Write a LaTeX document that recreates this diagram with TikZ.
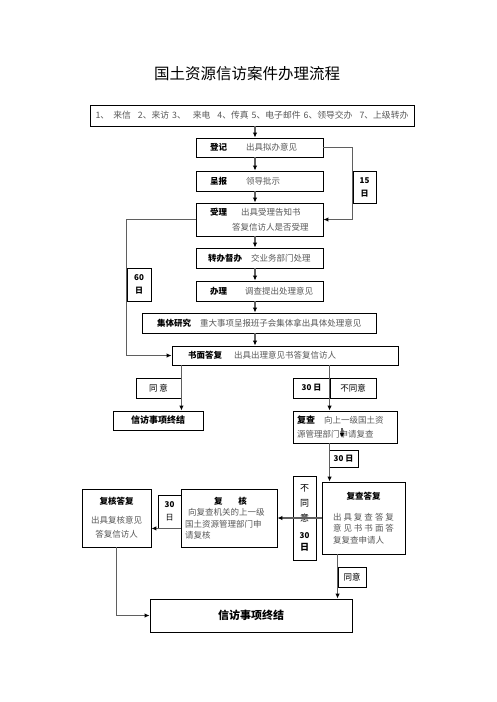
\documentclass[tikz,border=0pt]{standalone}
\usepackage{fontspec,xcolor,tikz}
\usetikzlibrary{arrows.meta,positioning,calc}
\setmainfont{Noto Sans CJK SC}
\definecolor{flowtxt}{RGB}{88,88,88}
\definecolor{flowline}{RGB}{95,95,95}
\newcommand{\gr}[1]{{\color{flowtxt}#1}}

\begin{document}
\begin{tikzpicture}[x=1pt,y=-1pt,>=Latex,
  box/.style={draw,line width=0.9pt,inner sep=0pt,font=\fontsize{8.5pt}{11pt}\selectfont},
  lbox/.style={box,align=left,inner ysep=0pt},
  conn/.style={draw=flowline,line width=1.1pt},
  arr/.style={conn,-{Latex[length=5pt,width=4.5pt,color=black]}}]
\fill[white] (0,0) rectangle (496,702);
\useasboundingbox (0,0) rectangle (496,702);
\node[font=\fontsize{15.5pt}{18pt}\selectfont] (title) at (247,74) {国土资源信访案件办理流程};
\node[box,minimum width=324,minimum height=21,font=\fontsize{8.8pt}{11pt}\selectfont] (src) at (252,115.5) {\gr{1、\hspace{4pt}来信\hspace{7pt}2、来访\hspace{3pt}3、\hspace{7pt}来电\hspace{7pt}4、传真\hspace{3pt}5、电子邮件\hspace{3pt}6、领导交办\hspace{7pt}7、上级转办}};
\node[lbox,minimum height=19,inner xsep=14,text width=99] (dengji) at (259.5,147.5) {\mbox{\textbf{登记}\hspace{19pt}\gr{出具拟办意见}}};
\node[lbox,minimum height=20,inner xsep=14,text width=99] (chengbao) at (259.5,181) {\mbox{\textbf{呈报}\hspace{19pt}\gr{领导批示}}};
\node[lbox,minimum height=33,inner xsep=14,text width=99,font=\fontsize{8.5pt}{15pt}\selectfont] (shouli) at (259.5,219.5) {\mbox{\textbf{受理}\hspace{14pt}\gr{出具受理告知书}}\\\mbox{\hspace*{22pt}\gr{答复信访人是否受理}}};
\node[box,minimum width=23,minimum height=32,align=center,font=\bfseries\fontsize{8pt}{13pt}\selectfont] (fifteen) at (364.5,187) {15\\日};
\node[lbox,minimum height=20,inner xsep=12,text width=103] (zhuanban) at (259.5,258) {\mbox{\textbf{转办督办}\hspace{9pt}\gr{交业务部门处理}}};
\node[lbox,minimum height=20,inner xsep=14,text width=99] (banli) at (259.5,291) {\mbox{\textbf{办理}\hspace{18pt}\gr{调查提出处理意见}}};
\node[box,minimum width=24,minimum height=33,align=center,font=\bfseries\fontsize{8pt}{13pt}\selectfont] (sixty) at (139,284.5) {60\\日};
\node[lbox,minimum height=20,inner xsep=15,text width=204] (jiti) at (259,323) {\mbox{\textbf{集体研究}\hspace{9pt}\gr{重大事项呈报班子会集体拿出具体处理意见}}};
\node[lbox,minimum height=19,inner xsep=16,text width=194] (shumian) at (285,355.5) {\mbox{\textbf{书面答复}\hspace{12pt}\gr{出具出理意见书答复信访人}}};
\node[box,minimum width=45,minimum height=20] (tongyi) at (158.5,388) {同\ 意};
\node[box,minimum width=90,minimum height=19,font=\bfseries\fontsize{9pt}{11pt}\selectfont] (end1) at (158,420.5) {信访事项终结};
\node[box,minimum width=37,minimum height=20,font=\bfseries\fontsize{8pt}{11pt}\selectfont] (d30) at (311.5,388) {30 日};
\node[box,minimum width=46,minimum height=20] (butongyi) at (353,388) {不同意};
\node[lbox,minimum height=32,inner xsep=4,text width=96,font=\fontsize{8.5pt}{14pt}\selectfont] (fucha) at (345,427) {\mbox{\textbf{\fontsize{9pt}{14pt}\selectfont 复查}\hspace{9pt}\gr{向上一级国土资}}\\\mbox{\gr{源管理部门申请复查}}};
\node[box,minimum width=29,minimum height=17,font=\bfseries\fontsize{8pt}{11pt}\selectfont] (d30b) at (343.5,458.5) {30 日};
\node[box,minimum width=83,minimum height=72,align=center,font=\fontsize{8.5pt}{11.5pt}\selectfont] (fuchadafu) at (363.5,518) {\textbf{复查答复}\\[9pt]\gr{\makebox[61pt][s]{出\hfill 具\hfill 复\hfill 查\hfill 答\hfill 复}}\\\gr{\makebox[61pt][s]{意\hfill 见\hfill 书\hfill 书\hfill 面\hfill 答}}\\\gr{\makebox[61pt][l]{复复查申请人}}};
\node[box,minimum width=23,minimum height=84,align=center,font=\fontsize{9pt}{15pt}\selectfont] (bty) at (304.5,518) {不\\同\\意\\[2pt]{\bfseries\fontsize{8pt}{12pt}\selectfont 30}\\[-3pt]\textbf{日}};
\node[lbox,minimum height=58,inner xsep=4,text width=88,font=\fontsize{8.5pt}{11.5pt}\selectfont] (fuhe) at (229,518) {\hspace*{29pt}\textbf{复\hspace{16pt}核}\\\gr{\hspace*{3pt}向复查机关的上一级}\\\gr{国土资源管理部门申}\\\gr{请复核}};
\node[box,minimum width=23,minimum height=33,align=center,font=\fontsize{8pt}{13pt}\selectfont] (d30c) at (169.5,511.5) {\textbf{30}\\日};
\node[box,minimum width=69,minimum height=58,align=center,font=\fontsize{8.5pt}{14pt}\selectfont] (fuhedafu) at (116.5,518) {\textbf{复核答复}\\[5pt]\gr{出具复核意见}\\\gr{答复信访人}};
\node[box,minimum width=28,minimum height=20] (tongyi2) at (352,577) {同意};
\node[box,minimum width=202,minimum height=33,font=\bfseries\fontsize{11pt}{13pt}\selectfont] (endbig) at (251,615.5) {信访事项终结};
\coordinate (mx) at (255,0);
\coordinate (sa) at (342,428);
\coordinate (sb) at (342,438);
\draw[arr] (src.south -| mx) -- (dengji.north -| mx);
\draw[arr] (dengji.south -| mx) -- (chengbao.north -| mx);
\draw[arr] (chengbao.south -| mx) -- (shouli.north -| mx);
\draw[arr] (shouli.south -| mx) -- (zhuanban.north -| mx);
\draw[arr] (zhuanban.south -| mx) -- (banli.north -| mx);
\draw[arr] (banli.south -| mx) -- (jiti.north -| mx);
\draw[arr] (jiti.south -| mx) -- (shumian.north -| mx);
\draw[arr] (dengji.east) -- (dengji.east -| fifteen.west) |- (shouli.east);
\draw[arr] (shouli.west) -- (shouli.west -| sixty.west) |- (shumian.west);
\draw[arr] (tongyi.east |- shumian.south) -- (tongyi.east |- end1.north);
\draw[arr] (butongyi.west |- shumian.south) -- (butongyi.west |- fucha.north);
\draw[arr] (sa) -- (sb);
\draw[arr] (butongyi.west |- fucha.south) -- (butongyi.west |- fuchadafu.north);
\draw[arr] (fuchadafu.west) -- (fuhe.east);
\draw[arr] (fuhe.west |- d30c.south) -- (fuhedafu.east |- d30c.south);
\draw[arr] (fuhedafu.south) |- (endbig.west);
\draw[arr] (tongyi2.west |- fuchadafu.south) -- (tongyi2.west |- endbig.north);
\end{tikzpicture}
\end{document}
